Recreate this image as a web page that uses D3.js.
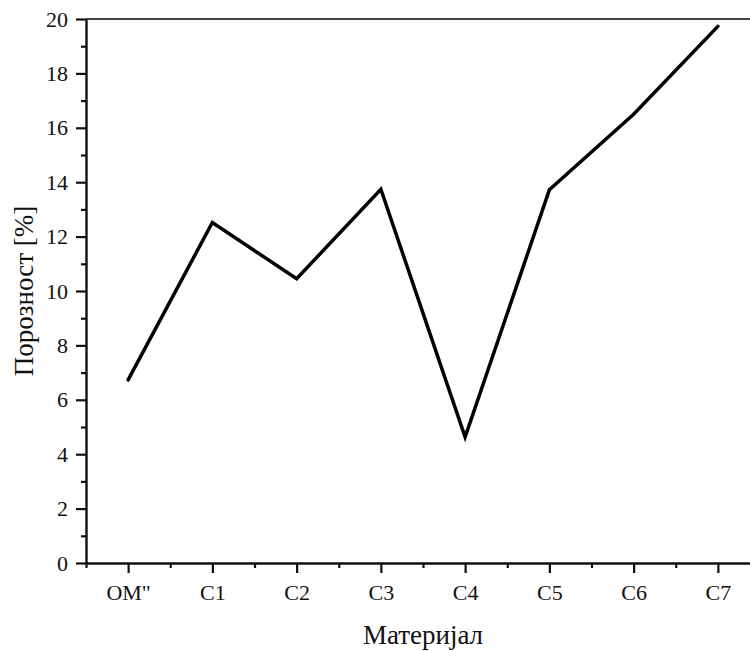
<!DOCTYPE html>
<html>
<head>
<meta charset="utf-8">
<script src="https://cdn.jsdelivr.net/npm/d3@7"></script>
<style>
  html, body { margin: 0; padding: 0; background: #fff; }
  svg { display: block; }
  text { font-family: "Liberation Serif", "Times New Roman", serif; fill: #111; }
</style>
</head>
<body>
<svg id="chart" width="750" height="651"></svg>
<script>
// Porosity of each material
const categories = ["OM\"", "C1", "C2", "C3", "C4", "C5", "C6", "C7"];
const porosity = [6.73, 12.52, 10.45, 13.74, 4.63, 13.72, 16.5, 19.73];
const yMajorTicks = [0, 2, 4, 6, 8, 10, 12, 14, 16, 18, 20];
const yMinorTicks = [1, 3, 5, 7, 9, 11, 13, 15, 17, 19];
const xTitle = "Материјал";
const yTitle = "Порозност [%]";

const svg = d3.select("#chart");
const plotLeft = 86, plotRight = 760, plotTop = 19, plotBottom = 563;

const x = d3.scalePoint().domain(categories).range([plotLeft, plotRight]).padding(0.5);
const y = d3.scaleLinear().domain([0, 20]).range([plotBottom, plotTop]);
// Minor x ticks sit halfway between categories
const xIdx = d3.scaleLinear().domain([-0.5, categories.length - 0.5]).range([plotLeft, plotRight]);
const xMinor = d3.range(-0.5, categories.length, 1);

// Top frame line
svg.append("line")
  .attr("x1", plotLeft).attr("x2", 750).attr("y1", plotTop).attr("y2", plotTop)
  .attr("stroke", "#444").attr("stroke-width", 2.2);

// Y axis (major with labels, minor without)
svg.append("g").attr("transform", `translate(${plotLeft},0)`)
  .call(d3.axisLeft(y).tickValues(yMajorTicks).tickFormat(d3.format("d")).tickSize(10).tickPadding(8).tickSizeOuter(0));
svg.append("g").attr("transform", `translate(${plotLeft},0)`)
  .call(d3.axisLeft(y).tickValues(yMinorTicks).tickFormat("").tickSize(5).tickSizeOuter(0))
  .call(g => g.select(".domain").remove());

// X axis
svg.append("g").attr("transform", `translate(0,${plotBottom})`)
  .call(d3.axisBottom(x).tickSize(10).tickPadding(11).tickSizeOuter(0));
svg.append("g").attr("transform", `translate(0,${plotBottom})`)
  .call(d3.axisBottom(xIdx).tickValues(xMinor).tickFormat("").tickSize(5).tickSizeOuter(0))
  .call(g => g.select(".domain").remove());

svg.selectAll(".domain").attr("stroke", "#111").attr("stroke-width", 2.4);
svg.selectAll(".tick line").attr("stroke", "#111").attr("stroke-width", 2.2);
svg.selectAll(".tick text")
  .style("font-family", "'Liberation Serif', 'Times New Roman', serif")
  .style("font-size", "22px").attr("fill", "#111");

// Data line
const line = d3.line()
  .x((d, i) => x(categories[i]))
  .y(d => y(d));
svg.append("path")
  .datum(porosity)
  .attr("d", line)
  .attr("fill", "none")
  .attr("stroke", "#000")
  .attr("stroke-width", 3.5)
  .attr("stroke-linejoin", "miter")
  .attr("stroke-linecap", "round");

// Axis titles
svg.append("text")
  .attr("x", (plotLeft + plotRight) / 2).attr("y", 644)
  .attr("text-anchor", "middle")
  .style("font-size", "27px")
  .text(xTitle);
svg.append("text")
  .attr("transform", `translate(33,${(plotTop + plotBottom) / 2}) rotate(-90)`)
  .attr("text-anchor", "middle")
  .style("font-size", "27px")
  .text(yTitle);
</script>
</body>
</html>
